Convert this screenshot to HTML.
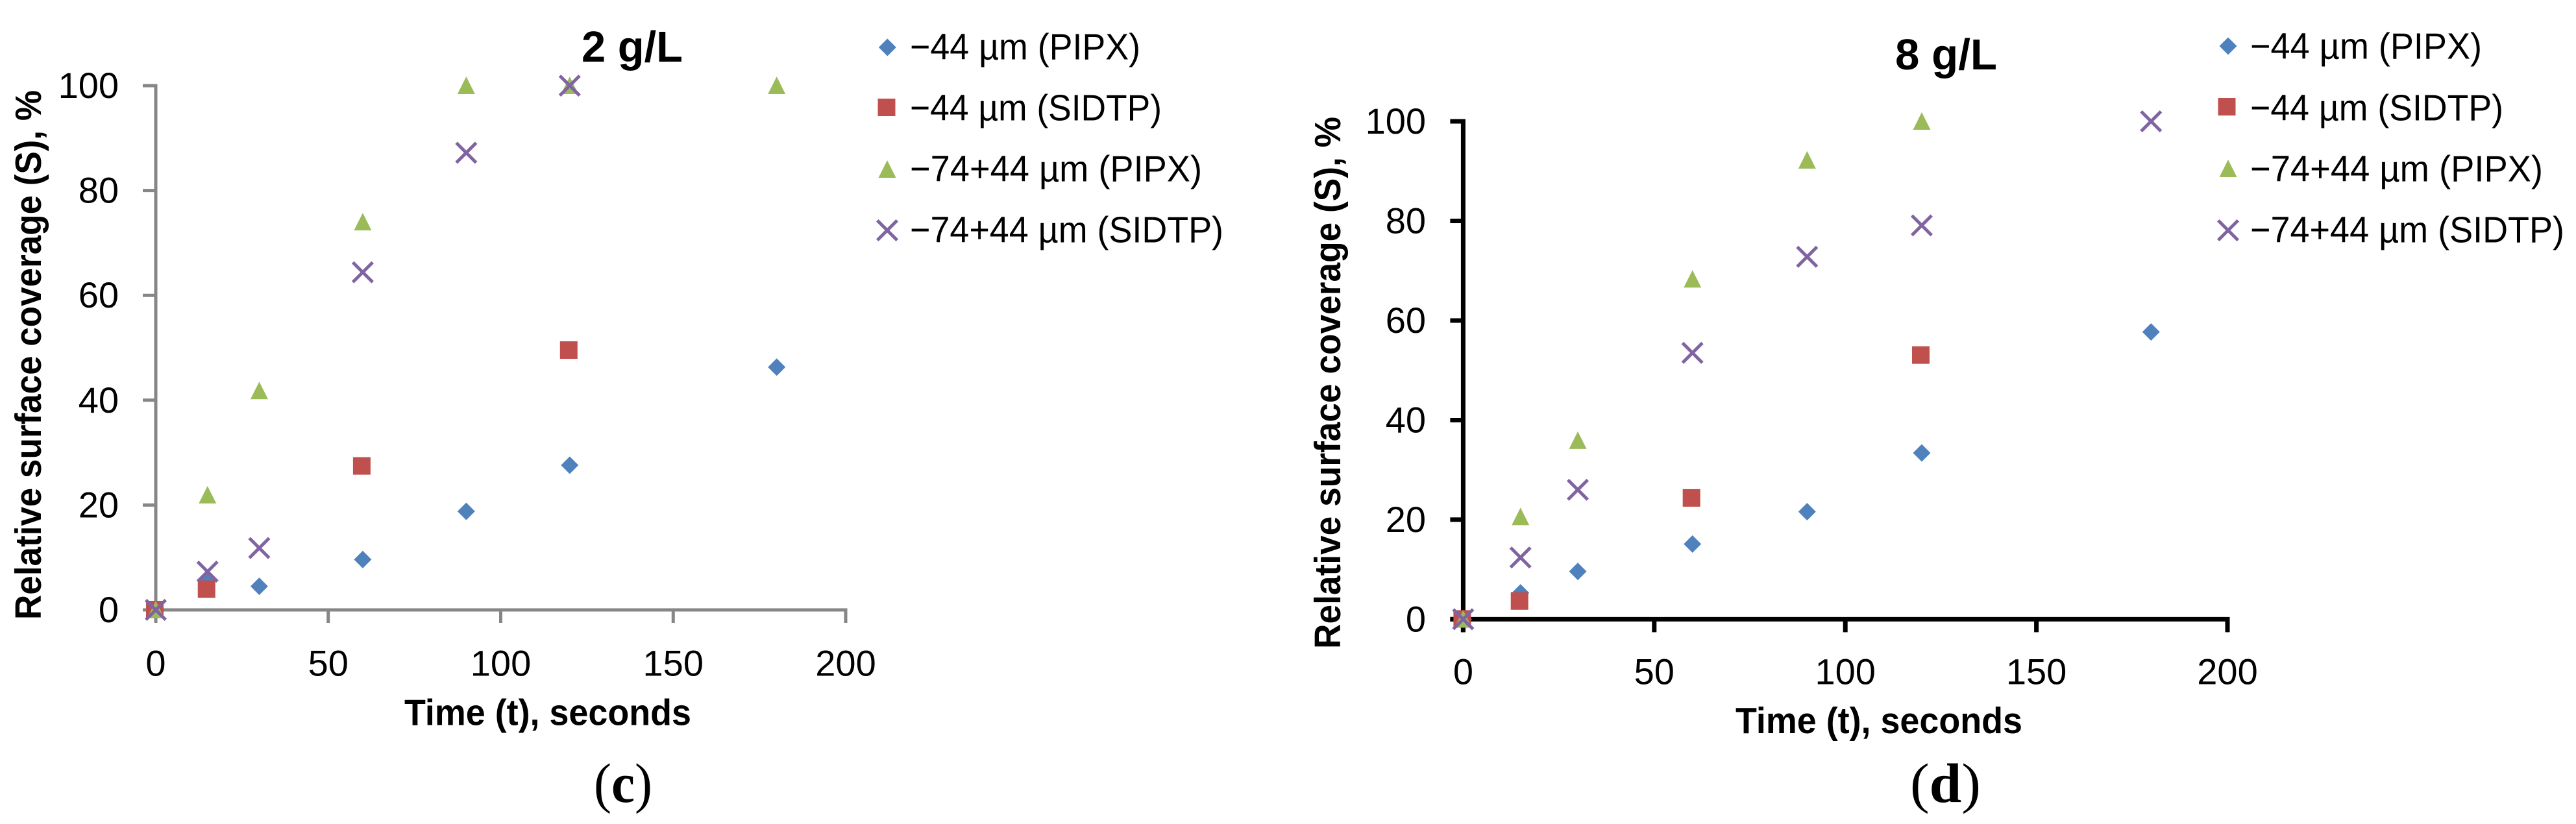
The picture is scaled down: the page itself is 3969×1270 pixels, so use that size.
<!DOCTYPE html>
<html lang="en">
<head>
<meta charset="utf-8">
<title>Relative surface coverage over time at 2 g/L and 8 g/L</title>
<style>
html,body{margin:0;padding:0;background:#fff;width:3969px;height:1270px;overflow:hidden}
svg{display:block}
text{font-family:"Liberation Sans",sans-serif;fill:#000}
.title{font-weight:700;font-size:67px}
.axt{font-weight:700;font-size:57px}
.leg{font-size:57px}
.tick{font-size:56px}
.cap{font-family:"Liberation Serif",serif;font-size:86px}
</style>
</head>
<body>
<svg id="figure" xmlns="http://www.w3.org/2000/svg" width="3969" height="1270" viewBox="0 0 3969 1270">
  <rect x="0" y="0" width="3969" height="1270" fill="#fff"/>

  <g id="panel-c">
    <text class="title" x="896" y="95" textLength="156" lengthAdjust="spacingAndGlyphs">2 g/L</text>
    <text class="axt" x="623" y="1117.5" textLength="442" lengthAdjust="spacingAndGlyphs">Time (t), seconds</text>
    <text class="axt" transform="translate(63,955) rotate(-90)" x="0" y="0" textLength="816" lengthAdjust="spacingAndGlyphs">Relative surface coverage (S), %</text>
    <text class="cap" x="915" y="1236" textLength="90" lengthAdjust="spacingAndGlyphs">(<tspan font-weight="700">c</tspan>)</text>
    <text class="leg" x="1402" y="91.5" textLength="355" lengthAdjust="spacingAndGlyphs">−44 µm (PIPX)</text>
    <text class="leg" x="1402" y="185.5" textLength="388" lengthAdjust="spacingAndGlyphs">−44 µm (SIDTP)</text>
    <text class="leg" x="1402" y="279.5" textLength="450" lengthAdjust="spacingAndGlyphs">−74+44 µm (PIPX)</text>
    <text class="leg" x="1402" y="373.5" textLength="483" lengthAdjust="spacingAndGlyphs">−74+44 µm (SIDTP)</text>
  </g>

  <g id="panel-d">
    <text class="title" x="2920" y="107" textLength="157" lengthAdjust="spacingAndGlyphs">8 g/L</text>
    <text class="axt" x="2674" y="1130" textLength="442" lengthAdjust="spacingAndGlyphs">Time (t), seconds</text>
    <text class="axt" transform="translate(2065,1000) rotate(-90)" x="0" y="0" textLength="820" lengthAdjust="spacingAndGlyphs">Relative surface coverage (S), %</text>
    <text class="cap" x="2943" y="1236" textLength="109" lengthAdjust="spacingAndGlyphs">(<tspan font-weight="700">d</tspan>)</text>
    <text class="leg" x="3467" y="90.5" textLength="357" lengthAdjust="spacingAndGlyphs">−44 µm (PIPX)</text>
    <text class="leg" x="3467" y="185.5" textLength="390" lengthAdjust="spacingAndGlyphs">−44 µm (SIDTP)</text>
    <text class="leg" x="3467" y="279.5" textLength="451" lengthAdjust="spacingAndGlyphs">−74+44 µm (PIPX)</text>
    <text class="leg" x="3467" y="373.5" textLength="484" lengthAdjust="spacingAndGlyphs">−74+44 µm (SIDTP)</text>
  </g>
</svg>

<script>
// Tick labels
const xTickLabels = [0, 50, 100, 150, 200];
const yTickLabels = [0, 20, 40, 60, 80, 100];

// Panel (c), 2 g/L
const cFine44PipxTime = [0, 15, 30, 60, 90, 120, 180];
const cFine44PipxCoverage = [0, 6, 4.5, 9.6, 18.8, 27.6, 46.3];
const cFine44SidtpTime = [0, 15, 60, 120];
const cFine44SidtpCoverage = [0, 3.9, 27.4, 49.5];
const cCoarse74PipxTime = [0, 15, 30, 60, 90, 120, 180];
const cCoarse74PipxCoverage = [0, 21.9, 41.8, 74, 100, 100, 100];
const cCoarse74SidtpTime = [0, 15, 30, 60, 90, 120];
const cCoarse74SidtpCoverage = [0, 7.3, 11.8, 64.4, 87.2, 100];

// Panel (d), 8 g/L
const dFine44PipxTime = [0, 15, 30, 60, 90, 120, 180];
const dFine44PipxCoverage = [0, 5.3, 9.6, 15.1, 21.6, 33.4, 57.7];
const dFine44SidtpTime = [0, 15, 60, 120];
const dFine44SidtpCoverage = [0, 3.6, 24.3, 53];
const dCoarse74PipxTime = [0, 15, 30, 60, 90, 120];
const dCoarse74PipxCoverage = [0, 20.6, 35.9, 68.3, 92.2, 100];
const dCoarse74SidtpTime = [0, 15, 30, 60, 90, 120, 180];
const dCoarse74SidtpCoverage = [0, 12.4, 26, 53.5, 72.8, 79.1, 100];

const NS = 'http://www.w3.org/2000/svg';

function make(parent, tag, name) {
  const el = document.createElementNS(NS, tag);
  
  
  parent.appendChild(el);
  return el;
}

function line(parent, name, x1, y1, x2, y2, color, width) {
  const el = make(parent, 'line', name);
  el.setAttribute('x1', x1);
  el.setAttribute('y1', y1);
  el.setAttribute('x2', x2);
  el.setAttribute('y2', y2);
  el.setAttribute('stroke', color);
  el.setAttribute('stroke-width', width);
  return el;
}

function marker(parent, kind, name, cx, cy) {
  if (kind === 'diamond') {
    const el = make(parent, 'polygon', name);
    el.setAttribute('points', [cx, cy - 13.5, cx + 13.5, cy, cx, cy + 13.5, cx - 13.5, cy].join(' '));
    el.setAttribute('fill', '#4f81bd');
  } else if (kind === 'square') {
    const el = make(parent, 'rect', name);
    el.setAttribute('x', cx - 15);
    el.setAttribute('y', cy - 14);
    el.setAttribute('width', 27);
    el.setAttribute('height', 27);
    el.setAttribute('fill', '#c0504d');
  } else if (kind === 'triangle') {
    const el = make(parent, 'polygon', name);
    el.setAttribute('points', [cx, cy - 14, cx + 13.5, cy + 13, cx - 13.5, cy + 13].join(' '));
    el.setAttribute('fill', '#9bbb59');
  } else {
    const el = make(parent, 'path', name);
    el.setAttribute('d', 'M' + (cx - 13.5) + ' ' + (cy - 13.5) + 'L' + (cx + 13.5) + ' ' + (cy + 13.5) +
      'M' + (cx + 13.5) + ' ' + (cy - 13.5) + 'L' + (cx - 13.5) + ' ' + (cy + 13.5));
    el.setAttribute('stroke', '#8064a2');
    el.setAttribute('stroke-width', 5);
    el.setAttribute('fill', 'none');
    el.setAttribute('stroke-linecap', 'square');
  }
}

function drawPanel(opt) {
  const root = document.getElementById(opt.id);
  const xScale = v => opt.x0 + v / 200 * (opt.x200 - opt.x0);
  const yScale = v => opt.y0 + v / 100 * (opt.y100 - opt.y0);

  const axes = make(root, 'g', 'axes-' + opt.tag);
  line(axes, 'x-axis-line-' + opt.tag, opt.x0 - opt.tickLen, yScale(0), xScale(200) + opt.axisW / 2, yScale(0), opt.axisColor, opt.axisW);
  line(axes, 'y-axis-line-' + opt.tag, xScale(0), yScale(100) - opt.axisW / 2, xScale(0), yScale(0) + opt.tickLen, opt.axisColor, opt.axisW);

  xTickLabels.forEach(v => {
    line(axes, 'x-tick-' + v + '-' + opt.tag, xScale(v), yScale(0), xScale(v), yScale(0) + opt.tickLen, opt.axisColor, opt.axisW);
    const t = make(axes, 'text', 'x-tick-label-' + v + '-' + opt.tag);
    t.setAttribute('class', 'tick');
    t.setAttribute('x', xScale(v));
    t.setAttribute('y', opt.xLabelY);
    t.setAttribute('text-anchor', 'middle');
    t.textContent = v;
  });

  yTickLabels.forEach(v => {
    line(axes, 'y-tick-' + v + '-' + opt.tag, xScale(0) - opt.tickLen, yScale(v), xScale(0), yScale(v), opt.axisColor, opt.axisW);
    const t = make(axes, 'text', 'y-tick-label-' + v + '-' + opt.tag);
    t.setAttribute('class', 'tick');
    t.setAttribute('x', opt.yLabelX);
    t.setAttribute('y', yScale(v) + 19);
    t.setAttribute('text-anchor', 'end');
    t.textContent = v;
  });

  opt.series.forEach(s => {
    const g = make(root, 'g', 'series-' + s.name + '-' + opt.tag);
    s.times.forEach((time, i) => {
      marker(g, s.kind, 'point-' + s.name + '-' + time + '-' + opt.tag, xScale(time), yScale(s.values[i]));
    });
  });

  opt.legend.forEach(m => {
    marker(root, m.kind, 'legend-marker-' + m.kind + '-' + opt.tag, m.x, m.y);
  });
}

drawPanel({
  id: 'panel-c', tag: 'c',
  x0: 240, x200: 1303, y0: 940, y100: 132,
  axisColor: '#868686', axisW: 5, tickLen: 20,
  xLabelY: 1041.5, yLabelX: 183,
  series: [
    {name: 'fine-44-pipx', kind: 'diamond', times: cFine44PipxTime, values: cFine44PipxCoverage},
    {name: 'fine-44-sidtp', kind: 'square', times: cFine44SidtpTime, values: cFine44SidtpCoverage},
    {name: 'coarse-74-pipx', kind: 'triangle', times: cCoarse74PipxTime, values: cCoarse74PipxCoverage},
    {name: 'coarse-74-sidtp', kind: 'cross', times: cCoarse74SidtpTime, values: cCoarse74SidtpCoverage}
  ],
  legend: [
    {kind: 'diamond', x: 1367.3, y: 73},
    {kind: 'square', x: 1367.5, y: 166},
    {kind: 'triangle', x: 1367, y: 261},
    {kind: 'cross', x: 1367, y: 355}
  ]
});

drawPanel({
  id: 'panel-d', tag: 'd',
  x0: 2254.4, x200: 3432, y0: 954.4, y100: 187,
  axisColor: '#000000', axisW: 7, tickLen: 20,
  xLabelY: 1054.5, yLabelX: 2197,
  series: [
    {name: 'fine-44-pipx', kind: 'diamond', times: dFine44PipxTime, values: dFine44PipxCoverage},
    {name: 'fine-44-sidtp', kind: 'square', times: dFine44SidtpTime, values: dFine44SidtpCoverage},
    {name: 'coarse-74-pipx', kind: 'triangle', times: dCoarse74PipxTime, values: dCoarse74PipxCoverage},
    {name: 'coarse-74-sidtp', kind: 'cross', times: dCoarse74SidtpTime, values: dCoarse74SidtpCoverage}
  ],
  legend: [
    {kind: 'diamond', x: 3433, y: 71},
    {kind: 'square', x: 3432.5, y: 165},
    {kind: 'triangle', x: 3433, y: 260},
    {kind: 'cross', x: 3433, y: 355}
  ]
});
</script>
</body>
</html>
